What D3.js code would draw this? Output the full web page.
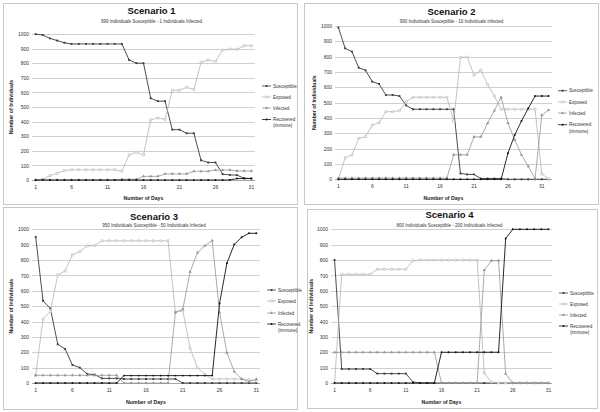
<!DOCTYPE html>
<html><head><meta charset="utf-8">
<script src="https://cdn.jsdelivr.net/npm/d3@7/dist/d3.min.js"></script>
<style>body{margin:0;background:#fff}svg{display:block}text{font-family:"Liberation Sans",Arial,sans-serif}</style>
</head><body>
<svg id="c" width="600" height="412"></svg>
<script>
const days31 = [1,2,3,4,5,6,7,8,9,10,11,12,13,14,15,16,17,18,19,20,21,22,23,24,25,26,27,28,29,30,31];
const days32 = [1,2,3,4,5,6,7,8,9,10,11,12,13,14,15,16,17,18,19,20,21,22,23,24,25,26,27,28,29,30,31,32];
const xTickLabels = [1,6,11,16,21,26,31];
const yTicks = [0,100,200,300,400,500,600,700,800,900,1000];
const seriesNames = ["Susceptible","Exposed","Infected","Recovered (immune)"];
const titles = ["Scenario 1","Scenario 2","Scenario 3","Scenario 4"];
const subtitles = ["999 Individuals Susceptible - 1 Individuals Infected",
  "990 Individuals Susceptible - 10 Individuals Infected",
  "950 Individuals Susceptible - 50 Individuals Infected",
  "800 Individuals Susceptible - 200 Individuals Infected"];

// Scenario 1
const s1Susceptible = [999,993,970,955,940,932,932,932,932,932,932,932,932,822,800,800,560,540,540,345,345,320,320,135,120,120,40,35,33,12,10];
const s1Exposed = [0,5,30,45,65,70,70,70,70,70,70,70,60,172,190,172,412,425,415,615,615,635,620,805,822,812,890,897,895,920,920];
const s1Infected = [0,0,0,0,0,0,0,0,0,0,0,0,5,5,5,25,25,25,42,42,42,42,60,60,60,68,68,68,62,62,62];
const s1Recovered = [0,0,0,0,0,0,0,0,0,0,0,0,0,0,0,0,0,0,0,0,0,0,0,0,0,0,0,0,10,10,10];
// Scenario 2
const s2Susceptible = [990,854,833,728,711,637,622,550,550,543,482,457,457,457,457,457,457,457,38,32,32,5,5,5,5,0,0,0,0,0,0,0];
const s2Exposed = [0,141,159,267,278,354,369,441,441,448,506,535,535,535,535,535,535,380,795,797,678,712,618,543,457,457,457,457,457,457,35,3];
const s2Infected = [8,8,8,8,8,8,8,8,8,8,8,8,8,8,8,8,8,160,160,160,277,277,365,448,535,367,258,160,84,3,418,452];
const s2Recovered = [0,0,0,0,0,0,0,0,0,0,0,0,0,0,0,0,0,0,0,0,0,0,0,0,0,170,289,380,463,543,543,543];
// Scenario 3
const s3Susceptible = [950,535,485,252,221,117,100,59,55,30,30,30,26,26,26,26,26,26,26,26,0,0,0,0,0,0,0,0,0,0,0];
const s3Exposed = [50,415,465,703,729,833,855,892,895,925,925,925,925,925,925,925,925,925,925,460,470,225,100,57,26,26,26,26,26,22,12];
const s3Infected = [50,50,50,50,50,50,50,50,50,50,50,50,0,0,0,0,0,0,0,460,480,724,848,893,926,460,197,74,26,8,25];
const s3Recovered = [0,0,0,0,0,0,0,0,0,0,0,0,48,48,48,48,48,48,48,48,48,48,48,48,48,518,779,902,948,974,974];
// Scenario 4
const s4Susceptible = [800,91,91,91,91,91,61,61,61,61,61,6,0,0,0,0,0,0,0,0,0,0,0,0,0,0,0,0,0,0,0];
const s4Exposed = [0,707,707,707,707,707,740,740,740,740,740,795,800,800,800,800,800,800,800,800,800,65,5,0,0,0,0,0,0,0,0];
const s4Infected = [200,200,200,200,200,200,200,200,200,200,200,200,200,200,200,0,0,0,0,0,0,735,795,797,60,0,0,0,0,0,0];
const s4Recovered = [0,0,0,0,0,0,0,0,0,0,0,0,0,0,0,200,200,200,200,200,200,200,200,200,940,1000,1000,1000,1000,1000,1000];

const scenarios = [
  {days: days31, series: [s1Susceptible, s1Exposed, s1Infected, s1Recovered]},
  {days: days32, series: [s2Susceptible, s2Exposed, s2Infected, s2Recovered]},
  {days: days31, series: [s3Susceptible, s3Exposed, s3Infected, s3Recovered]},
  {days: days31, series: [s4Susceptible, s4Exposed, s4Infected, s4Recovered]}
];

// layout (pixel geometry only)
const layouts = [
  {box:[3,3,294,201], px:[32,255], py:[180,34], titleY:14, subY:22.5, xLabY:190.5, xTitleY:200, yTitleX:13, legX:262, legY:[86,97,108,119.5]},
  {box:[304,3,294,201], px:[335,552], py:[179.3,26], titleY:15, subY:23, xLabY:190, xTitleY:200, yTitleX:316, legX:558, legY:[90.7,102,113,124.7]},
  {box:[3,207,294,202], px:[32,260], py:[383,229.3], titleY:220, subY:226.5, xLabY:394, xTitleY:404, yTitleX:13, legX:267, legY:[290,301,313,324]},
  {box:[307,209,290,199], px:[331,552], py:[383,229.3], titleY:217.5, subY:226.5, xLabY:394, xTitleY:404, yTitleX:313, legX:559, legY:[293,304,315,326]}
];
const colors = ["#3a3a3a","#b4b4b4","#959595","#111111"];
const symbols = [d3.symbolSquare, d3.symbolSquare, d3.symbolTriangle, d3.symbolCircle];
const symSize = [3.5,4,4.5,3];

const svg = d3.select("#c");

scenarios.forEach((sc, i) => {
  const L = layouts[i];
  const g = svg.append("g");
  g.append("rect").attr("x",L.box[0]+0.5).attr("y",L.box[1]+0.5).attr("width",L.box[2]).attr("height",L.box[3])
    .attr("fill","#fff").attr("stroke","#c8c8c8").attr("stroke-width",1);

  const x = d3.scaleBand().domain(sc.days).range(L.px);
  const y = d3.scaleLinear().domain([0,1000]).range(L.py);
  const cx = d => x(d) + x.bandwidth()/2;

  // gridlines + y axis
  const ya = g.append("g").attr("transform",`translate(${L.px[0]},0)`)
    .call(d3.axisLeft(y).tickValues(yTicks).tickFormat(d3.format("d")).tickSize(-(L.px[1]-L.px[0])).tickPadding(3));
  ya.select(".domain").remove();
  ya.selectAll(".tick line").attr("stroke","#c4c4c4").attr("stroke-width",0.8).attr("shape-rendering","crispEdges");
  ya.selectAll(".tick text").attr("font-size",5).attr("fill","#333");

  // x axis labels
  const xa = g.append("g").attr("transform",`translate(0,${L.xLabY-5.5})`)
    .call(d3.axisBottom(x).tickValues(xTickLabels).tickSize(0).tickPadding(0));
  xa.select(".domain").remove();
  xa.selectAll(".tick text").attr("font-size",5).attr("fill","#333").attr("dy","0.71em");

  // axis line at 0
  g.append("line").attr("x1",L.px[0]).attr("x2",L.px[1]).attr("y1",y(0)).attr("y2",y(0))
    .attr("stroke","#9a9a9a").attr("stroke-width",0.8).attr("shape-rendering","crispEdges");

  // titles
  const mid = (L.px[0]+L.px[1])/2 + 8;
  g.append("text").attr("x",mid).attr("y",L.titleY).attr("text-anchor","middle")
    .attr("font-size",9.5).attr("font-weight","bold").attr("fill","#111").text(titles[i]);
  g.append("text").attr("x",mid).attr("y",L.subY).attr("text-anchor","middle")
    .attr("font-size",4.5).attr("fill","#333").text(subtitles[i]);
  g.append("text").attr("x",(L.px[0]+L.px[1])/2).attr("y",L.xTitleY).attr("text-anchor","middle")
    .attr("font-size",5.2).attr("font-weight","bold").attr("fill","#222").text("Number of Days");
  const ymid = (L.py[0]+L.py[1])/2;
  g.append("text").attr("transform",`translate(${L.yTitleX},${ymid}) rotate(-90)`).attr("text-anchor","middle")
    .attr("font-size",5.2).attr("font-weight","bold").attr("fill","#222").text("Number of Individuals");

  // lines
  const line = d3.line().x((v,k) => cx(sc.days[k])).y(v => y(v));
  sc.series.forEach((vals, s) => {
    g.append("path").datum(vals).attr("d", line).attr("fill","none")
      .attr("stroke",colors[s]).attr("stroke-width", s===0||s===3 ? 0.9 : 0.8);
    g.selectAll(null).data(vals).enter().append("path")
      .attr("transform",(v,k)=>`translate(${cx(sc.days[k])},${y(v)})`)
      .attr("d", d3.symbol().type(symbols[s]).size(symSize[s]))
      .attr("fill", s===1 ? "#fff" : colors[s]).attr("stroke", s===1 ? colors[s] : "none").attr("stroke-width",0.6);
  });

  // legend
  seriesNames.forEach((nm, s) => {
    const ly = L.legY[s];
    g.append("line").attr("x1",L.legX).attr("x2",L.legX+9).attr("y1",ly).attr("y2",ly)
      .attr("stroke",colors[s]).attr("stroke-width",0.8);
    g.append("path").attr("transform",`translate(${L.legX+4.5},${ly})`)
      .attr("d", d3.symbol().type(symbols[s]).size(symSize[s]))
      .attr("fill", s===1 ? "#fff" : colors[s]).attr("stroke", s===1 ? colors[s] : "none").attr("stroke-width",0.6);
    const parts = nm === "Recovered (immune)" ? ["Recovered","(immune)"] : [nm];
    parts.forEach((p, j) => {
      g.append("text").attr("x",L.legX+11).attr("y",ly+1.6+j*6.3).attr("font-size",4.6).attr("fill","#333").text(p);
    });
  });
});
</script>
</body></html>
